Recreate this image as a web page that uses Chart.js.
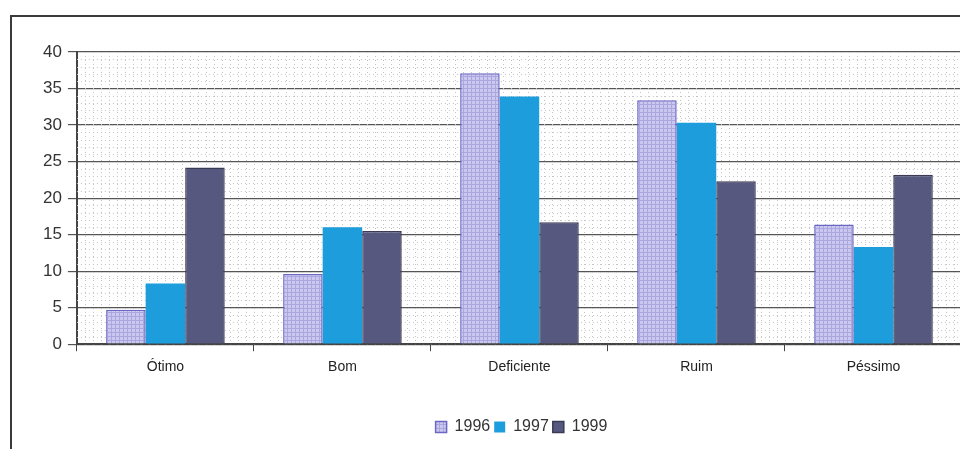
<!DOCTYPE html>
<html>
<head>
<meta charset="utf-8">
<script src="https://cdn.jsdelivr.net/npm/chart.js@4/dist/chart.umd.min.js"></script>
<style>
  html, body { margin: 0; padding: 0; background: #fff; overflow: hidden; }
  #frame {
    position: absolute; left: 10px; top: 15px; width: 1020px; height: 434px;
    border-left: 2px solid #3a3a3a; border-top: 2px solid #3a3a3a;
  }
  #wrap { position: absolute; left: 0; top: 0; width: 1020px; height: 434px; }
</style>
</head>
<body>
<div id="frame"><div id="wrap"><canvas id="chart"></canvas></div></div>
<script>
var categories = ["Ótimo", "Bom", "Deficiente", "Ruim", "Péssimo"];
var years = ["1996", "1997", "1999"];
var values1996 = [4.7, 9.6, 37.1, 33.4, 16.4];
var values1997 = [8.3, 16.0, 33.9, 30.3, 13.3];
var values1999 = [24.2, 15.5, 16.7, 22.3, 23.2];
var yTicks = [0, 5, 10, 15, 20, 25, 30, 35, 40];

// lavender fill with a fine grid, like the scanned 1996 bars
function hatch() {
  var c = document.createElement("canvas");
  c.width = 4; c.height = 4;
  var g = c.getContext("2d");
  g.fillStyle = "#cbc8ef";
  g.fillRect(0, 0, 4, 4);
  g.fillStyle = "#aba7de";
  g.fillRect(0, 3, 4, 1);
  g.fillRect(3, 0, 1, 4);
  return g.createPattern(c, "repeat");
}

// dotted minor grid behind the bars
var dottedBg = {
  id: "dottedBg",
  beforeDatasetsDraw: function(chart) {
    var a = chart.chartArea, ctx = chart.ctx, y = chart.scales.y;
    ctx.save();
    ctx.strokeStyle = "#c4c4c4";
    ctx.lineWidth = 1;
    ctx.setLineDash([1, 3]);
    for (var v = 1; v < 40; v++) {
      if (v % 5 == 0) continue;
      var py = Math.round(y.getPixelForValue(v)) + 0.5;
      ctx.beginPath(); ctx.moveTo(a.left, py); ctx.lineTo(a.right, py); ctx.stroke();
    }
    var step = (a.right - a.left) / 110;
    for (var i = 1; i < 110; i++) {
      var px = Math.round(a.left + i * step) + 0.5;
      ctx.beginPath(); ctx.moveTo(px, a.top); ctx.lineTo(px, a.bottom); ctx.stroke();
    }
    ctx.restore();
  }
};

// legend sits a bit right of the plot centre in the original
var legendShift = {
  id: "legendShift",
  afterLayout: function(chart) {
    chart.legend.left += 22;
    chart.legend.right += 22;
  }
};

var ctx = document.getElementById("chart").getContext("2d");
new Chart(ctx, {
  type: "bar",
  data: {
    labels: categories,
    datasets: [
      { label: years[0], data: values1996, backgroundColor: hatch(), borderColor: "#6b67c4", borderWidth: 1.5 },
      { label: years[1], data: values1997, backgroundColor: "#1e9ddc", borderColor: "#1e9ddc", borderWidth: 0 },
      { label: years[2], data: values1999, backgroundColor: "#575880", borderColor: "#3a3a55", borderWidth: 1.5 }
    ]
  },
  options: {
    responsive: true,
    maintainAspectRatio: false,
    animation: false,
    layout: { padding: { top: 35, right: 70, bottom: 6, left: 25 } },
    datasets: { bar: { categoryPercentage: 0.67, barPercentage: 1.0 } },
    scales: {
      x: {
        afterFit: function(s) { s.height += 31; },
        grid: { display: true, drawOnChartArea: false, offset: true, color: "#444", tickLength: 7 },
        border: { color: "#444", width: 2 },
        ticks: { color: "#222", font: { family: "Liberation Sans", size: 14 }, padding: 8 }
      },
      y: {
        min: 0, max: 40,
        afterBuildTicks: function(s) { s.ticks = yTicks.map(function(v) { return { value: v }; }); },
        grid: { color: "#555", lineWidth: 1.2, tickLength: 9 },
        border: { color: "#444", width: 2 },
        ticks: { color: "#333", font: { family: "Liberation Sans", size: 17 }, padding: 6 }
      }
    },
    plugins: {
      legend: {
        position: "bottom",
        labels: {
          color: "#333", font: { family: "Liberation Sans", size: 16 },
          boxWidth: 11, boxHeight: 11, padding: 4
        }
      },
      tooltip: { enabled: false }
    }
  },
  plugins: [dottedBg, legendShift]
});
</script>
</body>
</html>
